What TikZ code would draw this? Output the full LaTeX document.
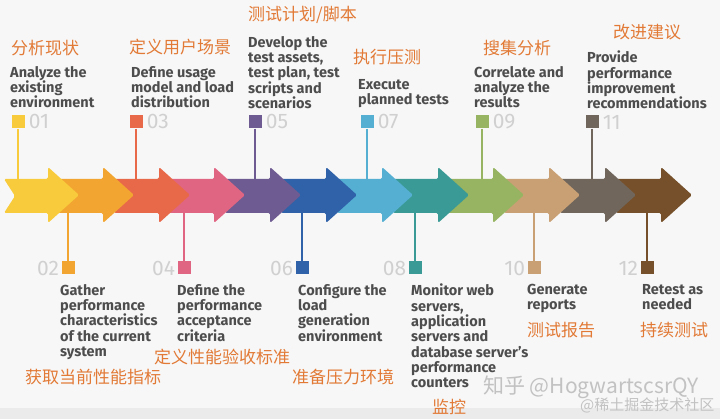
\documentclass[tikz,border=0pt]{standalone}
\usepackage{fontspec}
\setmainfont{Fira Sans}
\newfontfamily\cjk{Noto Sans CJK SC}
\usetikzlibrary{positioning}
\definecolor{bgcol}{HTML}{F7F7F7}
\definecolor{bandcol}{HTML}{EBEBEB}
\definecolor{txtgray}{HTML}{4D4D4D}
\definecolor{numgray}{HTML}{D0D0D0}
\definecolor{cnorange}{HTML}{E27A36}
\definecolor{wmgray}{HTML}{C2C2C2}
\definecolor{c1}{HTML}{F8CB3C}
\definecolor{c2}{HTML}{F2A631}
\definecolor{c3}{HTML}{E8684A}
\definecolor{c4}{HTML}{E06582}
\definecolor{c5}{HTML}{6E5B91}
\definecolor{c6}{HTML}{2F62A8}
\definecolor{c7}{HTML}{55AFD3}
\definecolor{c8}{HTML}{3A9A96}
\definecolor{c9}{HTML}{96B461}
\definecolor{c10}{HTML}{C8A074}
\definecolor{c11}{HTML}{70665C}
\definecolor{c12}{HTML}{76502A}

\begin{document}
\begin{tikzpicture}[x=1pt,y=-1pt,
    desc/.style={anchor=north west,inner sep=0pt,align=left,text=txtgray,
      font=\bfseries\fontsize{14.5}{15.3}\selectfont},
    cn/.style={anchor=west,inner sep=0pt,text=cnorange,
      font=\cjk\fontsize{17}{19}\selectfont},
    num/.style={inner sep=0pt,text=numgray,font=\fontsize{21}{23}\selectfont},
    marker/.style={minimum size=13pt,inner sep=0pt,fill=#1},
    stem/.style={line width=1.5pt,draw=#1},
    chevron/.style={fill=#1,rounded corners=1.5pt}]
    % background
    \useasboundingbox (0,0) rectangle (720,419);
    \fill[bgcol] (0,0) rectangle (720,419);
    \fill[bandcol] (0,408) rectangle (720,419);
    \coordinate (top) at (0,179);
    \coordinate (bot) at (0,213);
    % markers above the band
    \node[marker=c1] (m1) at (18,122) {};
    \node[marker=c3] (m3) at (136,122) {};
    \node[marker=c5] (m5) at (255,122) {};
    \node[marker=c7] (m7) at (367,122) {};
    \node[marker=c9] (m9) at (482,122) {};
    \node[marker=c11] (m11) at (592,122) {};
    \node[num,right=4pt of m1] (n1) {01};
    \node[num,right=4pt of m3] (n3) {03};
    \node[num,right=4pt of m5] (n5) {05};
    \node[num,right=4pt of m7] (n7) {07};
    \node[num,right=4pt of m9] (n9) {09};
    \node[num,right=4pt of m11] (n11) {11};
    % markers below the band
    \node[marker=c2] (m2) at (68,268) {};
    \node[marker=c4] (m4) at (184,268) {};
    \node[marker=c6] (m6) at (302,268) {};
    \node[marker=c8] (m8) at (415,268) {};
    \node[marker=c10] (m10) at (534,268) {};
    \node[marker=c12] (m12) at (647,268) {};
    \node[num,left=2pt of m2] (n2) {02};
    \node[num,left=2pt of m4] (n4) {04};
    \node[num,left=2pt of m6] (n6) {06};
    \node[num,left=2pt of m8] (n8) {08};
    \node[num,left=2pt of m10] (n10) {10};
    \node[num,left=2pt of m12] (n12) {12};
    % stems
    \draw[stem=c1] (m1) -- (m1 |- top);
    \draw[stem=c3] (m3) -- (m3 |- top);
    \draw[stem=c5] (m5) -- (m5 |- top);
    \draw[stem=c7] (m7) -- (m7 |- top);
    \draw[stem=c9] (m9) -- (m9 |- top);
    \draw[stem=c11] (m11) -- (m11 |- top);
    \draw[stem=c2] (m2) -- (m2 |- bot);
    \draw[stem=c4] (m4) -- (m4 |- bot);
    \draw[stem=c6] (m6) -- (m6 |- bot);
    \draw[stem=c8] (m8) -- (m8 |- bot);
    \draw[stem=c10] (m10) -- (m10 |- bot);
    \draw[stem=c12] (m12) -- (m12 |- bot);
    % the arrows, last one first so each head lies on the next body
    \fill[chevron=c12] (616,179) -- (661,179) -- (661,167) -- (692,195) -- (661,223) -- (661,213) -- (616,213) -- cycle;
    \fill[chevron=c11] (560,179) -- (605,179) -- (605,167) -- (636,195) -- (605,223) -- (605,213) -- (560,213) -- cycle;
    \fill[chevron=c10] (504,179) -- (549,179) -- (549,167) -- (580,195) -- (549,223) -- (549,213) -- (504,213) -- cycle;
    \fill[chevron=c9] (448,179) -- (493,179) -- (493,167) -- (524,195) -- (493,223) -- (493,213) -- (448,213) -- cycle;
    \fill[chevron=c8] (393,179) -- (438,179) -- (438,167) -- (469,195) -- (438,223) -- (438,213) -- (393,213) -- cycle;
    \fill[chevron=c7] (337,179) -- (382,179) -- (382,167) -- (413,195) -- (382,223) -- (382,213) -- (337,213) -- cycle;
    \fill[chevron=c6] (281,179) -- (326,179) -- (326,167) -- (357,195) -- (326,223) -- (326,213) -- (281,213) -- cycle;
    \fill[chevron=c5] (225,179) -- (270,179) -- (270,167) -- (301,195) -- (270,223) -- (270,213) -- (225,213) -- cycle;
    \fill[chevron=c4] (169,179) -- (214,179) -- (214,167) -- (245,195) -- (214,223) -- (214,213) -- (169,213) -- cycle;
    \fill[chevron=c3] (114,179) -- (159,179) -- (159,167) -- (190,195) -- (159,223) -- (159,213) -- (114,213) -- cycle;
    \fill[chevron=c2] (58,179) -- (103,179) -- (103,167) -- (134,195) -- (103,223) -- (103,213) -- (58,213) -- cycle;
    \fill[chevron=c1] (4,179) -- (48,179) -- (48,167) -- (79,195) -- (48,223) -- (48,213) -- (4,213) -- (15,196) -- cycle;
    % steps above
    \node[cn] (h1) at (11,48) {分析现状};
    \node[desc] (d1) at (10,66) {Analyze the\\existing\\environment};
    \node[cn] (h3) at (129,47) {定义用户场景};
    \node[desc] (d3) at (131,66) {Define usage\\model and load\\distribution};
    \node[cn] (h5) at (248,15) {测试计划/脚本};
    \node[desc] (d5) at (248,36) {Develop the\\test assets,\\test plan, test\\scripts and\\scenarios};
    \node[cn] (h7) at (353,57) {执行压测};
    \node[desc] (d7) at (358,79) {Execute\\planned tests};
    \node[cn] (h9) at (483,48) {搜集分析};
    \node[desc] (d9) at (474,66) {Correlate and\\analyze the\\results};
    \node[cn] (h11) at (613,32) {改进建议};
    \node[desc] (d11) at (587,51) {Provide\\performance\\improvement\\recommendations};
    % steps below
    \node[desc] (d2) at (60,284) {Gather\\performance\\characteristics\\of the current\\system};
    \node[cn] (h2) at (25,377) {获取当前性能指标};
    \node[desc] (d4) at (177,284) {Define the\\performance\\acceptance\\criteria};
    \node[cn] (h4) at (154,357) {定义性能验收标准};
    \node[desc] (d6) at (298,284) {Configure the\\load\\generation\\environment};
    \node[cn] (h6) at (292,377) {准备压力环境};
    \node[desc] (d8) at (411,284) {Monitor web\\servers,\\application\\servers and\\database server's\\performance\\counters};
    \node[cn] (h8) at (432,407) {监控};
    \node[desc] (d10) at (527,284) {Generate\\reports};
    \node[cn] (h10) at (527,330) {测试报告};
    \node[desc] (d12) at (642,284) {Retest as\\needed};
    \node[cn] (h12) at (640,330) {持续测试};
    % watermark
    \node[anchor=west,inner sep=0pt,text=wmgray,font=\cjk\fontsize{21}{23}\selectfont] (w1) at (483,387) {知乎 @HogwartscsrQY};
    \node[anchor=west,inner sep=0pt,text=wmgray,font=\cjk\fontsize{15}{17}\selectfont] (w2) at (580,405) {@稀土掘金技术社区};
\end{tikzpicture}
\end{document}
